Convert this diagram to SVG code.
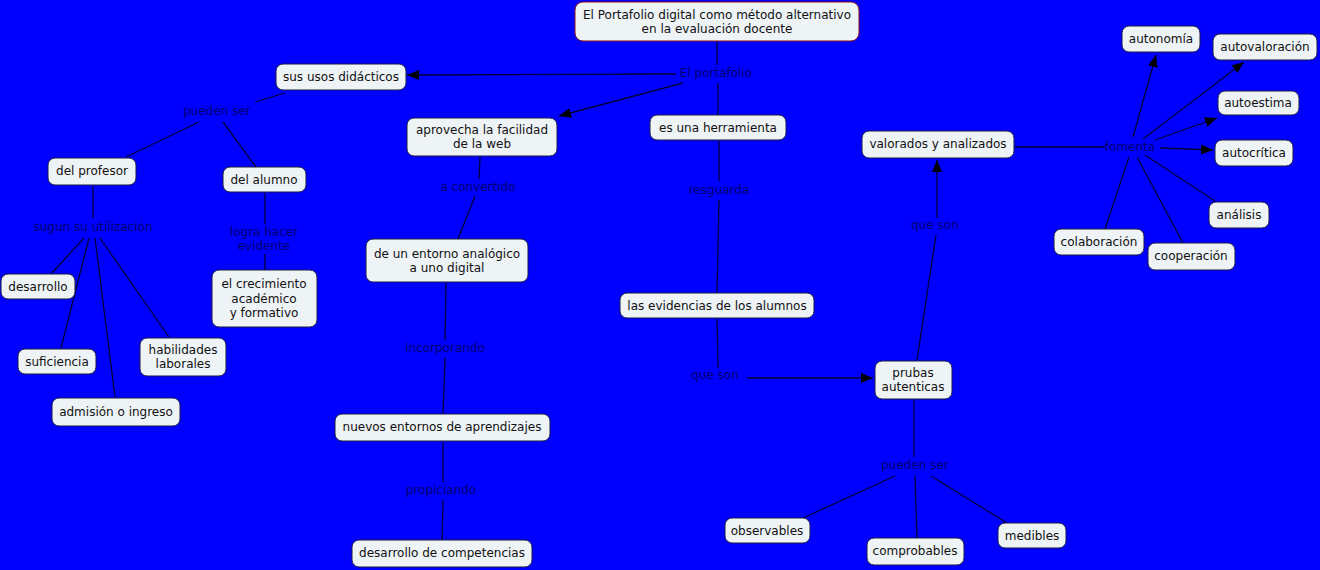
<svg xmlns="http://www.w3.org/2000/svg" width="1320" height="570" viewBox="0 0 1320 570">
<style>
.bg{fill:#0000ff}
.n rect{fill:#eef3f6;stroke:#1b1b40;stroke-width:1}
.n text{font-family:"DejaVu Sans",Verdana,sans-serif;font-size:12px;fill:#111;text-anchor:middle}
.lp{font-family:"DejaVu Sans",Verdana,sans-serif;font-size:12px;fill:#00006e;text-anchor:middle}
.c line{stroke:#00003a;stroke-width:1.3}
.t rect{stroke:#8b1010}
</style>
<defs>
<marker id="ah" markerUnits="userSpaceOnUse" markerWidth="14" markerHeight="12" refX="12" refY="5" orient="auto">
<path d="M0,0 L12,5 L0,10 Z" fill="#000"/>
</marker>
</defs>
<rect class="bg" x="0" y="0" width="1320" height="570"/>
<g id="connectors" class="c">
<line x1="717" y1="41" x2="717" y2="65"/>
<line x1="718" y1="83" x2="718" y2="115"/>
<line x1="676" y1="74" x2="407" y2="75" marker-end="url(#ah)"/>
<line x1="683" y1="83" x2="559" y2="116" marker-end="url(#ah)"/>
<line x1="285" y1="93" x2="255" y2="102"/>
<line x1="199" y1="122" x2="126" y2="157"/>
<line x1="223" y1="122" x2="256" y2="167"/>
<line x1="93" y1="186" x2="93" y2="218"/>
<line x1="84" y1="238" x2="52" y2="273"/>
<line x1="89" y1="238" x2="61" y2="348"/>
<line x1="95" y1="238" x2="115" y2="397"/>
<line x1="100" y1="238" x2="169" y2="337"/>
<line x1="265" y1="193" x2="265" y2="224"/>
<line x1="265" y1="254" x2="265" y2="270"/>
<line x1="480" y1="157" x2="479" y2="179"/>
<line x1="475" y1="196" x2="458" y2="239"/>
<line x1="446" y1="283" x2="445" y2="340"/>
<line x1="445" y1="358" x2="443" y2="414"/>
<line x1="443" y1="442" x2="443" y2="482"/>
<line x1="443" y1="500" x2="442" y2="540"/>
<line x1="719" y1="141" x2="719" y2="181"/>
<line x1="719" y1="200" x2="717" y2="293"/>
<line x1="717" y1="319" x2="718" y2="368"/>
<line x1="747" y1="378" x2="873" y2="378" marker-end="url(#ah)"/>
<line x1="917" y1="360" x2="936" y2="235"/>
<line x1="937" y1="218" x2="937" y2="160" marker-end="url(#ah)"/>
<line x1="1015" y1="147" x2="1105" y2="147"/>
<line x1="1133" y1="137" x2="1156" y2="55" marker-end="url(#ah)"/>
<line x1="1143" y1="139" x2="1244" y2="62" marker-end="url(#ah)"/>
<line x1="1155" y1="140" x2="1217" y2="118" marker-end="url(#ah)"/>
<line x1="1160" y1="148" x2="1213" y2="150" marker-end="url(#ah)"/>
<line x1="1145" y1="155" x2="1215" y2="201"/>
<line x1="1137" y1="157" x2="1183" y2="243"/>
<line x1="1129" y1="157" x2="1105" y2="229"/>
<line x1="914" y1="400" x2="914" y2="457"/>
<line x1="895" y1="476" x2="803" y2="518"/>
<line x1="915" y1="476" x2="917" y2="538"/>
<line x1="931" y1="476" x2="1007" y2="523"/>
</g>
<g id="n-title" class="n t"><rect x="575" y="2" width="284" height="39" rx="8"/><text x="717" y="19">El Portafolio digital como método alternativo</text><text x="717" y="33">en la evaluación docente</text></g>
<g id="n-usos" class="n"><rect x="276" y="64" width="130" height="26" rx="7"/><text x="341" y="81">sus usos didácticos</text></g>
<g id="n-aprovecha" class="n"><rect x="407" y="118" width="150" height="38" rx="7"/><text x="482" y="134">aprovecha la facilidad</text><text x="482" y="148">de la web</text></g>
<g id="n-herramienta" class="n"><rect x="650" y="115" width="136" height="25" rx="7"/><text x="718" y="132">es una herramienta</text></g>
<g id="n-profesor" class="n"><rect x="48" y="158" width="88" height="27" rx="7"/><text x="92" y="175">del profesor</text></g>
<g id="n-alumno" class="n"><rect x="223" y="167" width="83" height="25" rx="7"/><text x="264" y="184">del alumno</text></g>
<g id="n-desarrollo" class="n"><rect x="1" y="274" width="74" height="25" rx="7"/><text x="38" y="291">desarrollo</text></g>
<g id="n-suficiencia" class="n"><rect x="18" y="349" width="78" height="25" rx="7"/><text x="57" y="366">suficiencia</text></g>
<g id="n-habilidades" class="n"><rect x="140" y="338" width="86" height="38" rx="7"/><text x="183" y="354">habilidades</text><text x="183" y="368">laborales</text></g>
<g id="n-admision" class="n"><rect x="52" y="398" width="128" height="28" rx="7"/><text x="116" y="416">admisión o ingreso</text></g>
<g id="n-crecimiento" class="n"><rect x="212" y="270" width="105" height="57" rx="7"/><text x="264" y="288">el crecimiento</text><text x="264" y="303">académico</text><text x="264" y="317">y formativo</text></g>
<g id="n-entorno" class="n"><rect x="366" y="239" width="162" height="43" rx="7"/><text x="447" y="258">de un entorno analógico</text><text x="447" y="272">a uno digital</text></g>
<g id="n-nuevos" class="n"><rect x="335" y="414" width="215" height="27" rx="7"/><text x="442" y="431">nuevos entornos de aprendizajes</text></g>
<g id="n-competencias" class="n"><rect x="352" y="540" width="180" height="27" rx="7"/><text x="442" y="557">desarrollo de competencias</text></g>
<g id="n-evidencias" class="n"><rect x="620" y="293" width="194" height="25" rx="7"/><text x="717" y="310">las evidencias de los alumnos</text></g>
<g id="n-prubas" class="n"><rect x="875" y="361" width="77" height="38" rx="7"/><text x="913" y="377">prubas</text><text x="913" y="391">autenticas</text></g>
<g id="n-valorados" class="n"><rect x="862" y="131" width="152" height="27" rx="7"/><text x="938" y="148">valorados y analizados</text></g>
<g id="n-autonomia" class="n"><rect x="1122" y="26" width="78" height="26" rx="7"/><text x="1161" y="43">autonomía</text></g>
<g id="n-autovaloracion" class="n"><rect x="1213" y="34" width="104" height="26" rx="7"/><text x="1265" y="51">autovaloración</text></g>
<g id="n-autoestima" class="n"><rect x="1218" y="91" width="81" height="24" rx="7"/><text x="1258" y="107">autoestima</text></g>
<g id="n-autocritica" class="n"><rect x="1215" y="140" width="78" height="26" rx="7"/><text x="1254" y="157">autocrítica</text></g>
<g id="n-analisis" class="n"><rect x="1209" y="202" width="60" height="26" rx="7"/><text x="1239" y="219">análisis</text></g>
<g id="n-colaboracion" class="n"><rect x="1054" y="229" width="90" height="26" rx="7"/><text x="1099" y="246">colaboración</text></g>
<g id="n-cooperacion" class="n"><rect x="1148" y="243" width="87" height="27" rx="7"/><text x="1191" y="260">cooperación</text></g>
<g id="n-observables" class="n"><rect x="725" y="518" width="85" height="25" rx="7"/><text x="767" y="535">observables</text></g>
<g id="n-comprobables" class="n"><rect x="867" y="538" width="97" height="27" rx="7"/><text x="915" y="555">comprobables</text></g>
<g id="n-medibles" class="n"><rect x="998" y="523" width="68" height="25" rx="7"/><text x="1032" y="540">medibles</text></g>
<g id="linking-phrases">
<text class="lp" x="716" y="77">El portafolio</text>
<text class="lp" x="217" y="115">pueden ser</text>
<text class="lp" x="93" y="231">sugun su utilización</text>
<text class="lp" x="264" y="236">logra hacer</text>
<text class="lp" x="264" y="250">evidente</text>
<text class="lp" x="478" y="191">a convertido</text>
<text class="lp" x="445" y="352">incorporando</text>
<text class="lp" x="441" y="494">propiciando</text>
<text class="lp" x="719" y="194">resguarda</text>
<text class="lp" x="715" y="379">que son</text>
<text class="lp" x="935" y="229">que son</text>
<text class="lp" x="1130" y="151">fomenta</text>
<text class="lp" x="915" y="469">pueden ser</text>
</g>
</svg>
